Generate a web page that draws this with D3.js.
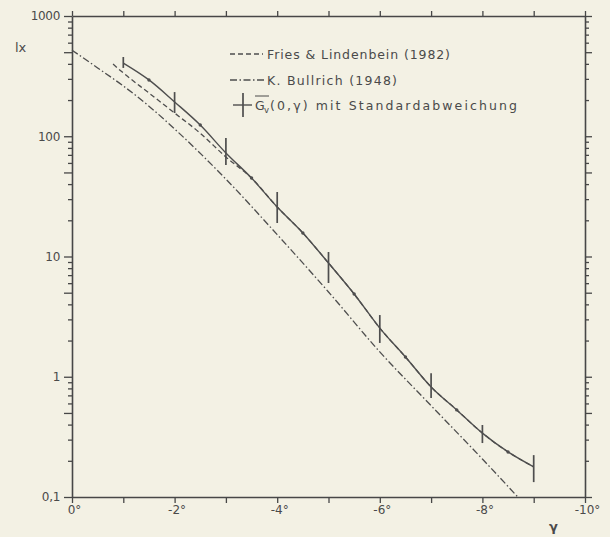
<!DOCTYPE html>
<html><head><meta charset="utf-8">
<script src="https://cdn.jsdelivr.net/npm/d3@7"></script>
<style>
html,body{margin:0;padding:0;background:#f3f1e4;}
svg{display:block;}
text{font-family:"DejaVu Sans",sans-serif;fill:#4a4a4a;}
</style></head><body>
<svg id="c" width="610" height="537"></svg>
<script>
// ---- data ----
const gvDeg  = [-1,-1.5,-2,-2.5,-3,-3.5,-4,-4.5,-5,-5.5,-6,-6.5,-7,-7.5,-8,-8.5,-9];
const gvVal  = [406,294,193,124,72.6,44.9,25.8,15.7,8.83,4.88,2.54,1.46,0.822,0.53,0.34,0.237,0.178];
const barDeg  = [-1,-2,-3,-4,-5,-6,-7,-8,-9];
const barLow  = [370,156,57.7,19.0,6.02,1.91,0.666,0.281,0.133];
const barHigh = [456,233,96.7,34.4,10.9,3.26,1.07,0.397,0.223];
const friesDeg = [-0.8,-1,-1.5,-2,-2.5,-3,-3.5,-4,-4.5,-5,-5.5,-6,-6.5,-7,-7.5,-8,-8.5,-9];
const friesVal = [398,336,229,156,106,67.2,44.9,25.8,15.7,8.83,4.88,2.54,1.46,0.822,0.53,0.34,0.237,0.178];
const bullDeg = [0,-0.5,-1,-1.5,-2,-3,-4,-5,-6,-7,-8,-8.69];
const bullVal = [520,370,262,178,115,44,15.2,5.07,1.61,0.575,0.207,0.1];
const yMajor = [0.1,1,10,100,1000];
const yTickLabels = ["0,1","1","10","100","1000"];
const xTicks = [0,-1,-2,-3,-4,-5,-6,-7,-8,-9,-10];
const xTickLabels = {"0":"0°","-2":"-2°","-4":"-4°","-6":"-6°","-8":"-8°","-10":"-10°"};
const legendLabels = ["Fries & Lindenbein (1982)","K. Bullrich (1948)","(0,γ) mit Standardabweichung"];

// ---- layout ----
const L=72, R=585, T=16, B=497;
const ink="#474747";
const svg=d3.select("#c");
const x=d3.scaleLinear().domain([0,-10]).range([L,R]);
const y=d3.scaleLog().domain([0.1,1000]).range([B,T]);

const yTicks=[];
for(let k=-1;k<=2;k++){for(let m=1;m<=9;m++){yTicks.push(+(m*Math.pow(10,k)).toPrecision(3));}}
yTicks.push(1000);
const isMajor=d=>yMajor.some(v=>Math.abs(v-d)/v<1e-6);
const isFive=d=>{const m=d/Math.pow(10,Math.floor(Math.log10(d)+1e-9));return Math.abs(m-5)<1e-6;};
const yLab=d=>{const i=yMajor.findIndex(v=>Math.abs(v-d)/v<1e-6);return i>=0?yTickLabels[i]:"";};

function styleAxis(g){
  g.select(".domain").attr("stroke",ink).attr("stroke-width",1.6);
  g.selectAll(".tick line").attr("stroke",ink).attr("stroke-width",1.3);
  g.selectAll(".tick text").attr("fill","#4a4a4a").style("font-family","DejaVu Sans, sans-serif").style("font-size","12px");
}
// left
const gl=svg.append("g").attr("transform",`translate(${L},0)`)
  .call(d3.axisLeft(y).tickValues(yTicks).tickFormat(yLab).tickSize(8).tickSizeOuter(0).tickPadding(4));
gl.selectAll(".tick line").attr("x2",d=>(isMajor(d)||isFive(d))?-8:-4);
styleAxis(gl);
gl.selectAll(".tick text").attr("letter-spacing","-0.3");
// right
const gr=svg.append("g").attr("transform",`translate(${R},0)`)
  .call(d3.axisRight(y).tickValues(yTicks).tickFormat("").tickSize(7).tickSizeOuter(0));
gr.selectAll(".tick line").attr("x2",d=>(isMajor(d)||isFive(d))?7:4);
styleAxis(gr);
// top
const gt=svg.append("g").attr("transform",`translate(0,${T})`)
  .call(d3.axisTop(x).tickValues(xTicks).tickFormat("").tickSize(5).tickSizeOuter(0));
styleAxis(gt);
// bottom
const gb=svg.append("g").attr("transform",`translate(0,${B})`)
  .call(d3.axisBottom(x).tickValues(xTicks).tickFormat(d=>xTickLabels[String(d)]||"").tickSize(6).tickSizeOuter(0).tickPadding(2));
styleAxis(gb);
gb.selectAll(".tick text").attr("dx","2");

// axis titles
svg.append("text").attr("x",15).attr("y",52).style("font-size","13px").text("lx");
svg.append("text").attr("x",549).attr("y",531).style("font-size","13px").style("font-weight","bold").text("γ");

// ---- curves ----
const line=d3.line().x(d=>x(d[0])).y(d=>y(d[1])).curve(d3.curveMonotoneX);
const z=(a,b)=>a.map((d,i)=>[d,b[i]]);
const lineCol="#4e4e4e";
svg.append("path").datum(z(bullDeg,bullVal)).attr("d",line)
  .attr("fill","none").attr("stroke",lineCol).attr("stroke-width",1.3).attr("stroke-dasharray","7,2.5,1.5,2.5");
svg.append("path").datum(z(friesDeg,friesVal)).attr("d",line)
  .attr("fill","none").attr("stroke",lineCol).attr("stroke-width",1.3).attr("stroke-dasharray","5,3");
svg.append("path").datum(z(gvDeg,gvVal)).attr("d",line)
  .attr("fill","none").attr("stroke",lineCol).attr("stroke-width",1.4);
// mid dots
svg.selectAll("circle.dot").data(z(gvDeg,gvVal).filter(d=>!Number.isInteger(d[0])))
  .enter().append("circle").attr("class","dot")
  .attr("cx",d=>x(d[0])).attr("cy",d=>y(d[1])).attr("r",1.7).attr("fill",lineCol);
// error bars
svg.selectAll("line.err").data(barDeg.map((d,i)=>[d,barLow[i],barHigh[i]]))
  .enter().append("line").attr("class","err")
  .attr("x1",d=>x(d[0])).attr("x2",d=>x(d[0]))
  .attr("y1",d=>y(d[1])).attr("y2",d=>y(d[2]))
  .attr("stroke",lineCol).attr("stroke-width",1.7);

// ---- legend ----
const lg=svg.append("g");
lg.append("line").attr("x1",230).attr("x2",263).attr("y1",54).attr("y2",54)
  .attr("stroke",lineCol).attr("stroke-width",1.3).attr("stroke-dasharray","5,3");
lg.append("text").attr("x",267).attr("y",58.5).style("font-size","12.5px")
  .attr("textLength",183).attr("lengthAdjust","spacing").text(legendLabels[0]);
lg.append("line").attr("x1",230).attr("x2",264).attr("y1",80).attr("y2",80)
  .attr("stroke",lineCol).attr("stroke-width",1.3).attr("stroke-dasharray","7,2.5,1.5,2.5");
lg.append("text").attr("x",267).attr("y",84.5).style("font-size","12.5px")
  .attr("textLength",130).attr("lengthAdjust","spacing").text(legendLabels[1]);
lg.append("line").attr("x1",233).attr("x2",252).attr("y1",105).attr("y2",105)
  .attr("stroke",lineCol).attr("stroke-width",1.4);
lg.append("line").attr("x1",243).attr("x2",243).attr("y1",93).attr("y2",117)
  .attr("stroke",lineCol).attr("stroke-width",1.7);
lg.append("text").attr("x",255).attr("y",109.5).style("font-size","12.5px").text("G");
lg.append("text").attr("x",264).attr("y",112.5).style("font-size","8.5px").text("v");
lg.append("line").attr("x1",255).attr("x2",269).attr("y1",96).attr("y2",96)
  .attr("stroke","#4a4a4a").attr("stroke-width",1);
lg.append("text").attr("x",270).attr("y",109.5).style("font-size","12.5px")
  .attr("textLength",247).attr("lengthAdjust","spacing").text(legendLabels[2]);
</script>
</body></html>
